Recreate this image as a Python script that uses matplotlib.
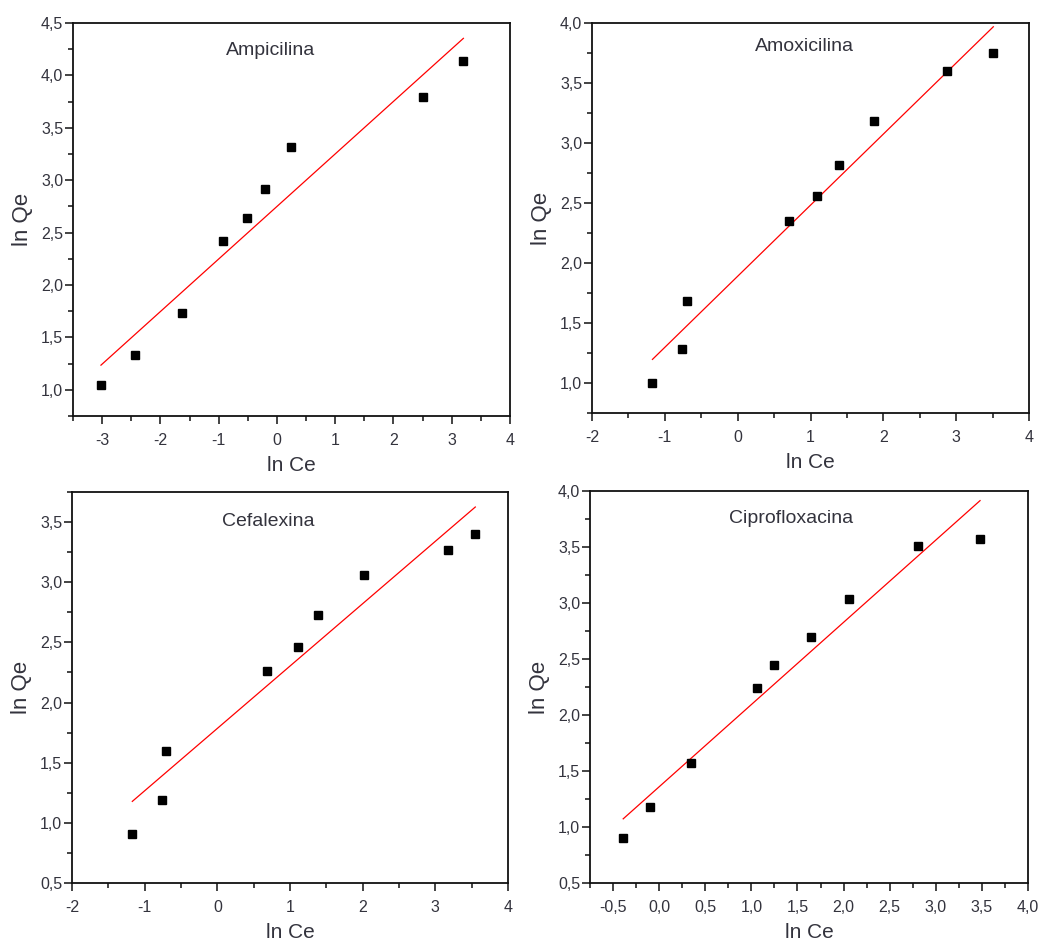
import numpy as np
import matplotlib
matplotlib.use("Agg")
import matplotlib.pyplot as plt
from matplotlib.ticker import MultipleLocator, FuncFormatter

plt.rcParams['font.family'] = ['Liberation Sans', 'DejaVu Sans']

names = ["Ampicilina", "Amoxicilina", "Cefalexina", "Ciprofloxacina"]

amp_x = [-3.02, -2.44, -1.63, -0.93, -0.52, -0.20, 0.24, 2.50, 3.20]
amp_y = [1.05, 1.33, 1.73, 2.42, 2.64, 2.92, 3.32, 3.79, 4.14]

amox_x = [-1.17, -0.76, -0.70, 0.70, 1.09, 1.39, 1.87, 2.88, 3.51]
amox_y = [1.00, 1.285, 1.68, 2.35, 2.56, 2.82, 3.18, 3.60, 3.75]

cef_x = [-1.17, -0.76, -0.71, 0.69, 1.11, 1.39, 2.02, 3.17, 3.55]
cef_y = [0.91, 1.19, 1.60, 2.26, 2.46, 2.73, 3.06, 3.27, 3.40]

cip_x = [-0.39, -0.10, 0.34, 1.06, 1.25, 1.65, 2.06, 2.81, 3.48]
cip_y = [0.90, 1.18, 1.57, 2.24, 2.45, 2.70, 3.04, 3.51, 3.57]

xs = [amp_x, amox_x, cef_x, cip_x]
ys = [amp_y, amox_y, cef_y, cip_y]

# axes boxes in pixels: left, right, top, bottom
boxes = [(73, 510, 23, 416), (592, 1029, 23, 413),
         (72, 508, 492, 883), (590, 1028, 491, 883)]
xlims = [(-3.5, 4), (-2, 4), (-2, 4), (-0.75, 4.0)]
ylims = [(0.75, 4.5), (0.75, 4.0), (0.5, 3.75), (0.5, 4.0)]
xmaj = [1, 1, 1, 0.5]
xdec = [0, 0, 0, 1]
title_pos = [(0.453, 0.93), (0.487, 0.94), (0.45, 0.924), (0.46, 0.93)]

W, H = 1049, 944
fig = plt.figure(figsize=(W / 100, H / 100), dpi=100)
txt = "#33333d"


def comma(dec):
    return FuncFormatter(lambda v, p: f"{v:.{dec}f}".replace(".", ","))


for i in range(4):
    l, r, t, b = boxes[i]
    ax = fig.add_axes([l / W, 1 - b / H, (r - l) / W, (b - t) / H])
    x = np.array(xs[i])
    y = np.array(ys[i])
    k, c = np.polyfit(x, y, 1)
    xl = np.array([x.min(), x.max()])
    ax.plot(xl, k * xl + c, color="red", lw=0.9)
    ax.plot(x, y, "s", color="black", ms=6)
    ax.set_xlim(*xlims[i])
    ax.set_ylim(*ylims[i])
    ax.xaxis.set_major_locator(MultipleLocator(xmaj[i]))
    ax.xaxis.set_minor_locator(MultipleLocator(xmaj[i] / 2))
    ax.yaxis.set_major_locator(MultipleLocator(0.5))
    ax.yaxis.set_minor_locator(MultipleLocator(0.25))
    ax.xaxis.set_major_formatter(comma(xdec[i]))
    ax.yaxis.set_major_formatter(comma(1))
    ax.tick_params(which="major", direction="out", length=6, width=1.1,
                   labelsize=11.5, color="#111", labelcolor=txt,
                   top=False, right=False)
    ax.tick_params(axis="x", which="major", pad=6)
    ax.tick_params(axis="y", which="major", pad=1)
    ax.tick_params(which="minor", direction="out", length=3.5, width=1.1,
                   top=False, right=False, color="#111")
    for s in ax.spines.values():
        s.set_linewidth(1.3)
        s.set_color("#111")
    ax.set_xlabel("ln Ce", fontsize=15, color=txt, labelpad=6)
    ax.set_ylabel("ln Qe", fontsize=16, color=txt, labelpad=6)
    ax.text(title_pos[i][0], title_pos[i][1], names[i], transform=ax.transAxes,
            ha="center", va="center", fontsize=14, color=txt)

fig.savefig("out.png", dpi=100)
